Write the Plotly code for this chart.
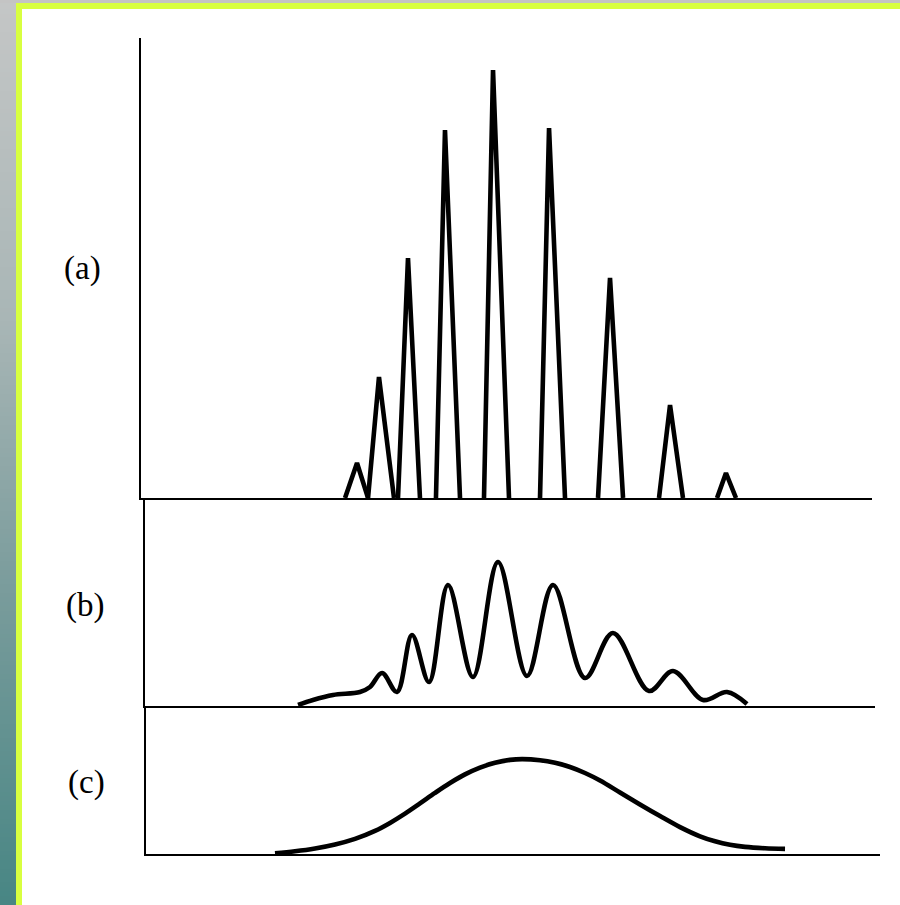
import plotly.graph_objects as go

# ---------------- data ----------------
# (a) discrete line spectrum: triangular peaks (x in arbitrary units, intensity in arbitrary units)
peak_left = [27.57, 30.68, 34.73, 39.86, 46.35, 53.92, 61.76, 70.00, 77.84]
peak_center = [29.19, 32.16, 36.08, 41.08, 47.57, 55.14, 63.38, 71.49, 79.05]
peak_right = [30.68, 34.19, 37.70, 43.11, 49.73, 57.30, 65.14, 73.24, 80.41]
peak_height = [17.5, 60.5, 120, 184, 214, 185, 110, 46.5, 12.5]

# (b) partially resolved spectrum
b_x = [21.22, 23.24, 25.95, 29.59, 30.95, 32.57, 34.59, 36.62, 38.92, 41.49, 44.86,
       48.24, 52.16, 55.68, 60.00, 63.78, 68.65, 71.89, 75.95, 79.19, 81.89]
b_y = [0.5, 3.0, 5.5, 7.0, 9.5, 16.5, 7.0, 35.5, 12.0, 60.5, 14.5,
       72.0, 15.0, 60.5, 14.0, 36.5, 7.5, 17.5, 3.0, 7.0, 1.0]

# (c) unresolved envelope
c_x = [18.11, 20.81, 23.51, 26.22, 28.92, 31.62, 33.65, 35.68, 37.70, 39.73, 41.76,
       43.78, 45.81, 47.84, 49.86, 51.49, 53.92, 55.95, 57.97, 60.00, 62.03, 64.73,
       67.43, 70.14, 72.84, 75.54, 77.57, 79.59, 81.62, 84.32, 87.03]
c_y = [0.35, 1.35, 2.75, 4.75, 7.55, 11.55, 15.55, 20.2, 25.3, 30.55, 35.5,
       39.8, 43.2, 45.6, 47.05, 47.45, 46.9, 45.6, 43.5, 40.5, 36.75, 30.75,
       24.75, 18.95, 13.45, 8.85, 6.35, 4.6, 3.55, 2.85, 2.55]

labels = ["(a)", "(b)", "(c)"]

# ---------------- layout helpers ----------------
W, H = 900, 905
X0, S = 141.0, 7.4      # pixel of x=0 and pixels per x-unit
YS = 2.0                # pixels per intensity unit

panels = [
    dict(left=141, right=872, top=38, bottom=498),
    dict(left=145, right=875, top=500, bottom=706),
    dict(left=146, right=880, top=708, bottom=854),
]
label_pos = [(82, 268), (85, 605), (86, 782)]

INK = "#000000"
LW = 4.6
AXW = 2.4

fig = go.Figure()

# (a) triangles
ax, ay = [], []
for l, c, r, h in zip(peak_left, peak_center, peak_right, peak_height):
    ax += [l, c, r, None]
    ay += [0, h, 0, None]
fig.add_trace(go.Scatter(x=ax, y=ay, mode="lines", line=dict(color=INK, width=LW),
                         xaxis="x", yaxis="y", hoverinfo="skip", showlegend=False))
fig.add_trace(go.Scatter(x=b_x, y=b_y, mode="lines", line=dict(color=INK, width=LW, shape="spline", smoothing=1.0),
                         xaxis="x2", yaxis="y2", hoverinfo="skip", showlegend=False))
fig.add_trace(go.Scatter(x=c_x, y=c_y, mode="lines", line=dict(color=INK, width=LW, shape="spline", smoothing=1.0),
                         xaxis="x3", yaxis="y3", hoverinfo="skip", showlegend=False))

# left gradient strip
N = 200
fig.add_trace(go.Heatmap(z=[[i] for i in range(N)], x=[0], y=list(range(N)),
                         colorscale=[[0.0, "#488684"], [0.35, "#7a9c9c"], [0.65, "#a9b6b6"], [1.0, "#c4c6c6"]],
                         showscale=False, hoverinfo="skip", xaxis="x4", yaxis="y4"))

layout = dict(width=W, height=H, margin=dict(l=0, r=0, t=0, b=0), autosize=False,
              paper_bgcolor="white", plot_bgcolor="rgba(0,0,0,0)", showlegend=False)

for i, p in enumerate(panels):
    sx = "" if i == 0 else str(i + 1)
    layout["xaxis" + sx] = dict(domain=[p["left"] / W, p["right"] / W],
                                range=[(p["left"] - X0) / S, (p["right"] - X0) / S],
                                showline=True, linecolor=INK, linewidth=AXW, showgrid=False, zeroline=False,
                                showticklabels=False, ticks="", anchor="y" + sx, fixedrange=True)
    layout["yaxis" + sx] = dict(domain=[(H - p["bottom"]) / H, (H - p["top"]) / H],
                                range=[0, (p["bottom"] - p["top"]) / YS],
                                showline=True, linecolor=INK, linewidth=AXW, showgrid=False, zeroline=False,
                                showticklabels=False, ticks="", anchor="x" + sx, fixedrange=True)

layout["xaxis4"] = dict(domain=[0, 16 / W], range=[-0.5, 0.5], visible=False, anchor="y4", fixedrange=True)
layout["yaxis4"] = dict(domain=[0, 1], range=[-0.5, N - 0.5], visible=False, anchor="x4", fixedrange=True)

YEL = "#d8ff40"
layout["shapes"] = [
    dict(type="rect", xref="paper", yref="paper", x0=0, x1=1, y0=1 - 3 / H, y1=1,
         fillcolor="#c4c4c4", line=dict(width=0)),
    dict(type="rect", xref="paper", yref="paper", x0=16 / W, x1=1, y0=1 - 9 / H, y1=1 - 3 / H,
         fillcolor=YEL, line=dict(width=0)),
    dict(type="rect", xref="paper", yref="paper", x0=16 / W, x1=22 / W, y0=0, y1=1 - 3 / H,
         fillcolor=YEL, line=dict(width=0)),
]

layout["annotations"] = [
    dict(text=t, x=px / W, y=(H - py) / H, xref="paper", yref="paper", showarrow=False,
         xanchor="center", yanchor="middle",
         font=dict(family="Liberation Serif, Times New Roman, serif", size=33, color=INK))
    for t, (px, py) in zip(labels, label_pos)
]

fig.update_layout(**layout)
fig.write_html("out.html", config={"displayModeBar": False},
               post_script="document.body.style.margin='0';document.body.style.overflow='hidden';")
